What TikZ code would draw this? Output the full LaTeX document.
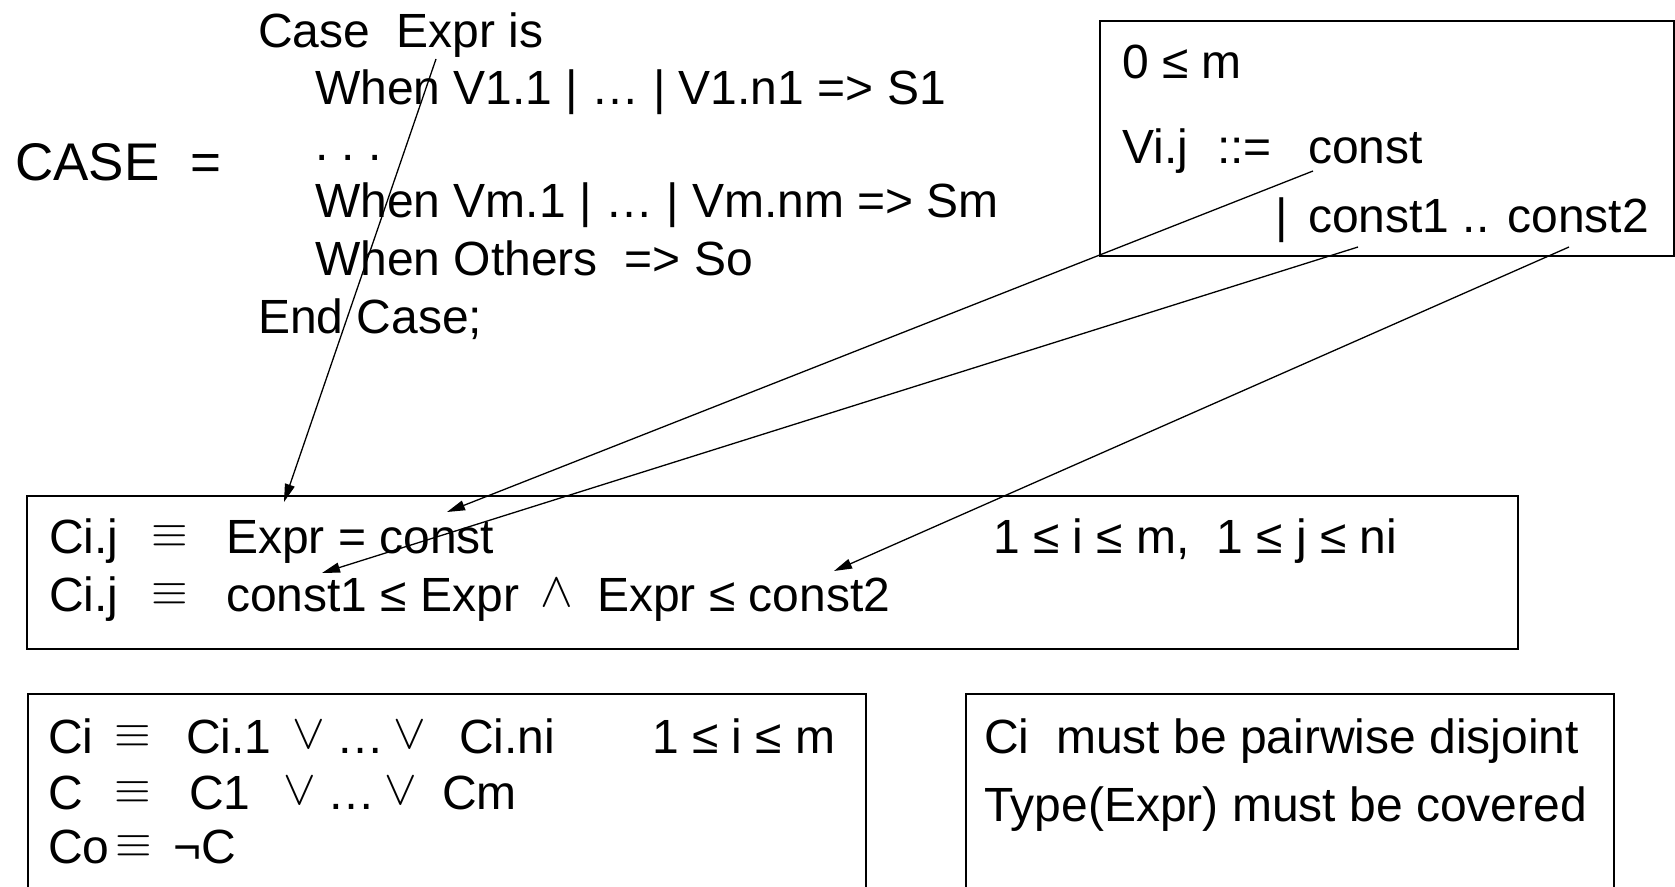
\documentclass[tikz,border=0pt]{standalone}
\usepackage{graphicx}
\usepackage{fontspec}
\setmainfont{Liberation Sans}
\usetikzlibrary{arrows.meta}

% thin logic symbols taken from the math fonts, scaled up
\newcommand\eqsym{\scalebox{4.7}{$\equiv$}}
\newcommand\orsym{\scalebox{4.9}{$\vee$}}
\newcommand\andsym{\scalebox{4.9}{$\wedge$}}

\tikzset{
  txt/.style={anchor=base west, inner sep=0pt, font=\fontsize{48}{56}\selectfont},
  bigtxt/.style={anchor=base west, inner sep=0pt, font=\fontsize{53}{60}\selectfont},
  sym/.style={anchor=center, inner sep=0pt},
  frame/.style={draw, line width=1.8pt, anchor=north west, inner sep=0pt},
  link/.style={line width=1.3pt, -{Triangle[length=18pt,width=10pt]}}
}

\begin{document}
\begin{tikzpicture}[x=1pt,y=-1pt]
\useasboundingbox (0,0) rectangle (1675,886);

% ---- the Case statement ----
\node[bigtxt] (caselbl) at (15,180) {CASE};
\node[bigtxt] (caseeq) at (190,180) {=};
\node[txt] (c0) at (258,47) {Case\ \ Expr is};
\node[txt] (c1) at (315,104) {When V1.1 | … | V1.n1 => S1};
\node[txt] (c2) at (315,160) {.\ .\ .};
\node[txt] (c3) at (315,217) {When Vm.1 | … | Vm.nm => Sm};
\node[txt] (c4) at (315,275) {When Others\ \ => So};
\node[txt] (c5) at (258,333) {End Case;};

% ---- syntax of the choices ----
\node[frame, minimum width=574pt, minimum height=235pt] (vbox) at (1099,20) {};
\node[txt] (v0) at (1122,78) {0 ≤ m};
\node[txt] (v1) at (1122,163) {Vi.j};
\node[txt] (v1a) at (1217,163) {::=};
\node[txt] (v1b) at (1308,163) {const};
\node[txt] (v2) at (1275,232) {|};
\node[txt] (v2a) at (1308,232) {const1 .. const2};

% ---- conditions for one choice ----
\node[frame, minimum width=1491pt, minimum height=153pt] (cbox) at (26,495) {};
\node[txt] (d1) at (49,553) {Ci.j};
\node[sym] (d1e) at (170,537) {\eqsym};
\node[txt] (d1b) at (226,553) {Expr = const};
\node[txt] (d1r) at (993,553) {1 ≤ i ≤ m,\ \ 1 ≤ j ≤ ni};
\node[txt] (d2) at (49,611) {Ci.j};
\node[sym] (d2e) at (170,595) {\eqsym};
\node[txt] (d2b) at (226,611) {const1 ≤ Expr};
\node[sym] (d2c) at (557,593) {\andsym};
\node[txt] (d2d) at (597,611) {Expr ≤ const2};

% ---- conditions for a branch ----
\node[frame, minimum width=838pt, minimum height=220pt] (bbox) at (27,693) {};
\node[txt] (e1) at (48,753) {Ci};
\node[sym] (e1e) at (133,737) {\eqsym};
\node[txt] (e1b) at (186,753) {Ci.1};
\node[sym] (e1c) at (309,735) {\orsym};
\node[txt] (e1d) at (336,753) {…};
\node[sym] (e1f) at (410,735) {\orsym};
\node[txt] (e1g) at (459,753) {Ci.ni};
\node[txt] (e1r) at (652,753) {1 ≤ i ≤ m};
\node[txt] (e2) at (48,809) {C};
\node[sym] (e2e) at (133,793) {\eqsym};
\node[txt] (e2b) at (189,809) {C1};
\node[sym] (e2c) at (300,791) {\orsym};
\node[txt] (e2d) at (327,809) {…};
\node[sym] (e2f) at (401,791) {\orsym};
\node[txt] (e2g) at (442,809) {Cm};
\node[txt] (e3) at (48,863) {Co};
\node[sym] (e3e) at (134,847) {\eqsym};
\node[txt] (e3b) at (173,863) {¬C};

% ---- global requirements ----
\node[frame, minimum width=648pt, minimum height=220pt] (rbox) at (965,693) {};
\node[txt] (r1) at (984,753) {Ci\ \ must be pairwise disjoint};
\node[txt] (r2) at (984,821) {Type(Expr) must be covered};

% ---- connectors ----
\coordinate (exprfoot) at (436,59);
\coordinate (exprtip)  at (284,502);
\coordinate (constfoot) at (1313,171);
\coordinate (consttip)  at (447,512);
\coordinate (lofoot) at (1358,247);
\coordinate (lotip)  at (322,573);
\coordinate (hifoot) at (1569,247);
\coordinate (hitip)  at (834,571);

\draw[link] (exprfoot) -- (exprtip);
\draw[link] (constfoot) -- (consttip);
\draw[link] (lofoot) -- (lotip);
\draw[link] (hifoot) -- (hitip);
\end{tikzpicture}
\end{document}
